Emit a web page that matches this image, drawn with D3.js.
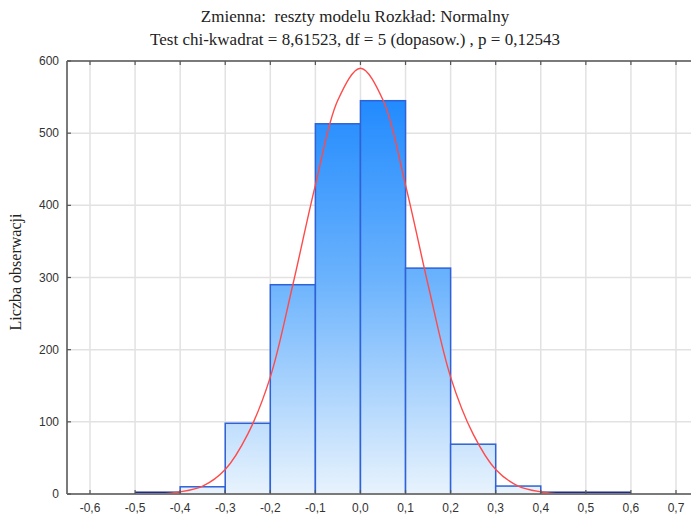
<!DOCTYPE html>
<html>
<head>
<meta charset="utf-8">
<script src="https://cdn.jsdelivr.net/npm/d3@7"></script>
<style>
  body { margin: 0; background: #fff; }
</style>
</head>
<body>
<div id="chart"></div>
<script>
// histogram bins (lower edge, upper edge, count)
const binStart = [-0.5, -0.4, -0.3, -0.2, -0.1, 0.0, 0.1, 0.2, 0.3, 0.4, 0.5];
const binEnd   = [-0.4, -0.3, -0.2, -0.1, 0.0, 0.1, 0.2, 0.3, 0.4, 0.5, 0.6];
const counts   = [1, 10, 98, 290, 513, 545, 313, 69, 11, 0, 1];

// fitted normal curve
const curveX = [-0.45, -0.4, -0.35, -0.3, -0.25, -0.2, -0.15, -0.1, -0.05, 0.0, 0.05, 0.1, 0.15, 0.2, 0.25, 0.3, 0.35, 0.4, 0.45];
const curveY = [0, 3, 11, 34, 83, 162, 290, 428, 546, 590, 546, 428, 290, 162, 83, 34, 11, 3, 0];

const xTicks = [-0.6, -0.5, -0.4, -0.3, -0.2, -0.1, 0.0, 0.1, 0.2, 0.3, 0.4, 0.5, 0.6, 0.7];
const yTicks = [0, 100, 200, 300, 400, 500, 600];

const width = 691;
const height = 519;
const plotLeft = 67, plotRight = 700, plotTop = 61, plotBottom = 494;

const x = d3.scaleLinear().domain([-0.6, 0.7]).range([90, 676]);
const y = d3.scaleLinear().domain([0, 600]).range([plotBottom, plotTop]);

const svg = d3.select("#chart")
  .append("svg")
  .attr("width", width)
  .attr("height", height)
  .attr("viewBox", [0, 0, width, height]);

const grad = svg.append("defs").append("linearGradient")
  .attr("id", "barFill")
  .attr("gradientUnits", "userSpaceOnUse")
  .attr("x1", 0).attr("x2", 0)
  .attr("y1", plotTop).attr("y2", plotBottom);
grad.append("stop").attr("offset", "0%").attr("stop-color", "#1282fe");
grad.append("stop").attr("offset", "50%").attr("stop-color", "#6ab2fd");
grad.append("stop").attr("offset", "100%").attr("stop-color", "#e8f3fd");

// grid
svg.append("g")
  .selectAll("line")
  .data(xTicks)
  .enter()
  .append("line")
  .attr("x1", d => x(d)).attr("x2", d => x(d))
  .attr("y1", plotTop).attr("y2", plotBottom)
  .attr("stroke", "#e2e2e2")
  .attr("stroke-width", 1.5);

svg.append("g")
  .selectAll("line")
  .data(yTicks.filter(d => d > 0 && d < 600))
  .enter()
  .append("line")
  .attr("x1", plotLeft).attr("x2", plotRight)
  .attr("y1", d => y(d)).attr("y2", d => y(d))
  .attr("stroke", "#e2e2e2")
  .attr("stroke-width", 1.5);

// bars
const bins = binStart.map((s, i) => ({ s: s, e: binEnd[i], n: counts[i] }));

svg.append("g")
  .selectAll("rect")
  .data(bins.filter(d => d.n > 3))
  .enter()
  .append("rect")
  .attr("x", d => x(d.s))
  .attr("y", d => y(d.n))
  .attr("width", d => x(d.e) - x(d.s))
  .attr("height", d => y(0) - y(d.n))
  .attr("fill", "url(#barFill)")
  .attr("stroke", "#2f62d6")
  .attr("stroke-width", 1.5);

// near-empty bins drawn as a dark line on the base
svg.append("g")
  .selectAll("line")
  .data(bins.filter(d => d.n <= 3))
  .enter()
  .append("line")
  .attr("x1", d => x(d.s)).attr("x2", d => x(d.e))
  .attr("y1", plotBottom - 1.5).attr("y2", plotBottom - 1.5)
  .attr("stroke", "#1c2a8a")
  .attr("stroke-width", 2);

// normal curve
const line = d3.line()
  .x((d, i) => x(curveX[i]))
  .y(d => y(d))
  .curve(d3.curveCatmullRom);

svg.append("path")
  .attr("d", line(curveY))
  .attr("fill", "none")
  .attr("stroke", "#ff4a4a")
  .attr("stroke-width", 1.4);

// frame
svg.append("line")
  .attr("x1", plotLeft).attr("x2", plotRight).attr("y1", plotTop).attr("y2", plotTop)
  .attr("stroke", "#7a7a7a").attr("stroke-width", 2);
svg.append("line")
  .attr("x1", plotLeft).attr("x2", plotRight).attr("y1", plotBottom).attr("y2", plotBottom)
  .attr("stroke", "#7a7a7a").attr("stroke-width", 2);
svg.append("line")
  .attr("x1", plotLeft).attr("x2", plotLeft).attr("y1", plotTop).attr("y2", plotBottom)
  .attr("stroke", "#7a7a7a").attr("stroke-width", 2);

// small inward ticks
svg.append("g")
  .selectAll("line")
  .data(xTicks)
  .enter()
  .append("line")
  .attr("x1", d => x(d)).attr("x2", d => x(d))
  .attr("y1", plotTop).attr("y2", plotTop + 4)
  .attr("stroke", "#555").attr("stroke-width", 1.2);
svg.append("g")
  .selectAll("line")
  .data(xTicks)
  .enter()
  .append("line")
  .attr("x1", d => x(d)).attr("x2", d => x(d))
  .attr("y1", plotBottom).attr("y2", plotBottom - 4)
  .attr("stroke", "#555").attr("stroke-width", 1.2);
svg.append("g")
  .selectAll("line")
  .data(yTicks)
  .enter()
  .append("line")
  .attr("x1", plotLeft).attr("x2", plotLeft + 4)
  .attr("y1", d => y(d)).attr("y2", d => y(d))
  .attr("stroke", "#555").attr("stroke-width", 1.2);

// tick labels
const fmt = d => d.toFixed(1).replace(".", ",");

svg.append("g")
  .selectAll("text")
  .data(xTicks)
  .enter()
  .append("text")
  .attr("x", d => x(d))
  .attr("y", 512)
  .attr("text-anchor", "middle")
  .attr("font-family", "Liberation Sans, Arial, sans-serif")
  .attr("font-size", 12)
  .attr("fill", "#333")
  .text(d => fmt(d));

svg.append("g")
  .selectAll("text")
  .data(yTicks)
  .enter()
  .append("text")
  .attr("x", 59)
  .attr("y", d => y(d) + 4)
  .attr("text-anchor", "end")
  .attr("font-family", "Liberation Sans, Arial, sans-serif")
  .attr("font-size", 12)
  .attr("fill", "#333")
  .text(d => d);

// titles
svg.append("text")
  .attr("x", 355).attr("y", 22)
  .attr("text-anchor", "middle")
  .attr("font-family", "Liberation Serif, Times New Roman, serif")
  .attr("font-size", 17)
  .attr("fill", "#222")
  .style("white-space", "pre")
  .text("Zmienna:  reszty modelu Rozkład: Normalny");

svg.append("text")
  .attr("x", 355).attr("y", 45)
  .attr("text-anchor", "middle")
  .attr("font-family", "Liberation Serif, Times New Roman, serif")
  .attr("font-size", 17)
  .attr("fill", "#222")
  .text("Test chi-kwadrat = 8,61523, df = 5 (dopasow.) , p = 0,12543");

svg.append("text")
  .attr("transform", "translate(21,272) rotate(-90)")
  .attr("text-anchor", "middle")
  .attr("font-family", "Liberation Serif, Times New Roman, serif")
  .attr("font-size", 16)
  .attr("fill", "#222")
  .text("Liczba obserwacji");
</script>
</body>
</html>
